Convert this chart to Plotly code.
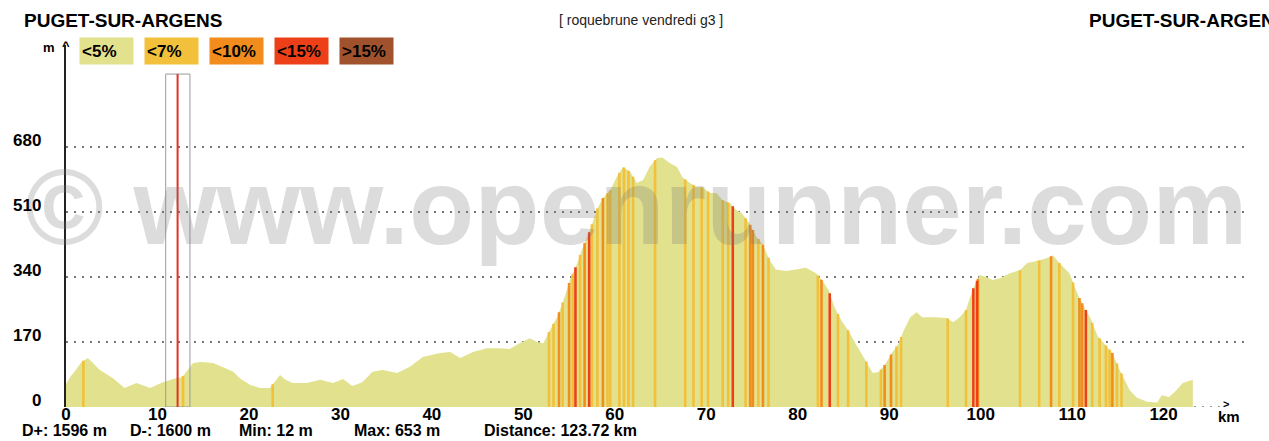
import numpy as np
import plotly.graph_objects as go

# ---------------- data ----------------
dist_km = [0.0, 0.5, 1.0, 1.7, 2.4, 3.7, 5.1, 6.4, 7.7, 9.2, 10.6, 12.1, 12.7, 13.9, 14.7,
           16.1, 18.3, 19.0, 20.1, 21.2, 22.3, 23.1, 23.4, 24.0, 24.8, 26.3, 27.8, 29.2,
           30.3, 31.3, 32.4, 33.5, 34.6, 36.2, 37.6, 39.0, 40.9, 42.0, 43.1, 44.5, 46.0,
           47.4, 48.5, 49.6, 50.7, 51.5, 52.2, 52.9, 53.7, 54.4, 55.1, 55.9, 56.5, 57.3,
           58.0, 58.7, 59.5, 60.2, 60.9, 61.7, 62.4, 63.1, 63.8, 64.6, 65.2, 66.0, 66.8,
           67.4, 68.2, 69.0, 69.6, 70.4, 71.1, 71.8, 72.6, 73.3, 73.9, 74.7, 75.5, 76.2,
           76.9, 77.6, 78.7, 79.8, 80.9, 82.0, 82.7, 83.4, 84.0, 84.8, 85.5, 86.1, 86.9,
           87.6, 88.2, 88.9, 89.5, 90.3, 91.0, 91.6, 92.3, 93.0, 93.6, 95.0, 96.3, 97.0,
           97.7, 98.4, 99.1, 99.9, 100.6, 101.3, 102.1, 103.2, 104.3, 105.1, 106.5, 107.5,
           107.9, 108.6, 109.7, 110.7, 111.3, 112.0, 112.8, 113.3, 114.4, 115.2, 116.3,
           117.1, 118.2, 119.3, 119.8, 120.6, 121.4, 122.1, 123.0, 123.2]
elev_m = [60, 80, 95, 118, 128, 97, 76, 50, 63, 50, 65, 76, 78, 115, 118,
          115, 92, 75, 58, 50, 50, 76, 84, 71, 63, 63, 71, 63,
          73, 55, 65, 92, 97, 89, 105, 131, 141, 144, 128, 144, 154,
          154, 152, 167, 180, 170, 167, 201, 235, 280, 332, 377, 418, 463,
          515, 547, 567, 601, 628, 615, 586, 594, 628, 651, 653, 638, 628,
          601, 586, 575, 575, 560, 560, 541, 533, 515, 507, 481, 445, 425,
          385, 360, 356, 360, 364, 350, 330, 305, 262, 225, 201, 175, 141,
          115, 89, 92, 110, 141, 165, 201, 235, 248, 235, 235, 233, 222,
          235, 254, 306, 345, 340, 332, 337, 350, 358, 377, 384, 392,
          397, 377, 350, 290, 262, 232, 185, 172, 141, 97, 44,
          24, 14, 12, 31, 26, 44, 63, 71, 71]

# slope stripes: position (km) and slope class index into categories
stripe_km = [1.9, 12.8, 22.6,
             52.8, 53.3, 53.9, 54.3, 55.0, 55.4, 55.7, 56.2, 56.7, 57.2, 57.5, 58.1,
             58.7, 59.2, 59.5, 60.5, 61.0, 61.5, 62.0, 64.4, 67.7, 68.6, 69.5, 70.2,
             71.8, 72.4, 72.9, 74.3, 74.8, 75.1, 75.7, 76.2, 76.8, 82.2, 82.6, 83.5, 84.4, 85.5,
             87.5, 89.1, 89.5, 90.2, 90.8, 91.3, 96.4, 98.4, 99.2, 99.6, 99.7, 104.3,
             106.4, 107.7, 108.6, 110.1, 110.8, 111.1, 111.5, 112.2, 113.0, 113.7,
             114.1, 114.4, 114.9, 115.4]
stripe_cat = [1, 1, 1,
              1, 1, 2, 1, 2, 1, 3, 1, 2, 3, 1, 1,
              2, 1, 1, 1, 1, 1, 1, 1, 1, 1, 1, 1,
              1, 1, 3, 1, 2, 2, 1, 2, 1, 1, 2, 3, 1, 1,
              1, 1, 2, 2, 1, 1, 1, 1, 3, 3, 2, 1,
              1, 2, 1, 1, 2, 2, 3, 1, 1, 1,
              1, 2, 1, 1]

categories = ["<5%", "<7%", "<10%", "<15%", ">15%"]
cat_colors = ["#e1e18e", "#f2c03a", "#f28c1c", "#ee4018", "#a0522d"]

x_ticks = list(range(0, 121, 10))
y_ticks = [0, 170, 340, 510, 680]

start_name = "PUGET-SUR-ARGENS"
end_name = "PUGET-SUR-ARGENS"
route_name = "[ roquebrune vendredi g3 ]"
d_plus, d_minus, min_elev, max_elev, total_km = 1596, 1600, 12, 653, 123.72
cursor_km = 12.2

# ---------------- layout constants ----------------
W, H = 1269, 441
L, R, T, B = 66, 24, 45, 34
X_MAX = 128.9
Y_MAX = 947
FONT = "Liberation Sans"
GRID = "#777777"
STRIPE_HALF = 0.14

fig = go.Figure()

# base profile
fig.add_trace(go.Scatter(x=dist_km, y=elev_m, mode="lines", fill="tozeroy",
                         line=dict(width=0, color=cat_colors[0]),
                         fillcolor=cat_colors[0], hoverinfo="skip", showlegend=False))

# slope stripes, one trace per class
for ci in range(1, len(categories)):
    xs, ys = [], []
    for k, c in zip(stripe_km, stripe_cat):
        if c != ci:
            continue
        h = float(np.interp(k, dist_km, elev_m))
        xs += [k - STRIPE_HALF, k - STRIPE_HALF, k + STRIPE_HALF, k + STRIPE_HALF, k - STRIPE_HALF, None]
        ys += [0, h, h, 0, 0, None]
    if xs:
        fig.add_trace(go.Scatter(x=xs, y=ys, mode="lines", fill="toself",
                                 line=dict(width=0, color=cat_colors[ci]),
                                 fillcolor=cat_colors[ci], hoverinfo="skip", showlegend=False))


def ann(text, px, py, size=14, bold=True, xa="left", ya="middle", color="#000000", **kw):
    d = dict(text=text, xref="paper", yref="paper", x=0, y=1,
             xshift=px - L, yshift=T - py, xanchor=xa, yanchor=ya, showarrow=False,
             font=dict(family=FONT, size=size, color=color, weight="bold" if bold else "normal"))
    d.update(kw)
    return d


annotations = []
# watermark
annotations.append(ann("© www.openrunner.com", 636, 207, size=107, xa="center",
                       color="rgba(120,120,120,0.26)"))
# titles
annotations.append(ann(start_name, 22, 20, size=19))
annotations.append(ann(route_name, 641, 20, size=14, bold=False, xa="center", color="#222222"))
annotations.append(ann(end_name, 1087, 20, size=19))
# legend boxes
for i, (lab, col) in enumerate(zip(categories, cat_colors)):
    annotations.append(ann(lab, 79 + i * 65, 51, size=17, bgcolor=col, width=49, height=22,
                           align="left", borderpad=2))
# axis captions
annotations.append(ann("m", 49, 47, size=13, xa="center"))
annotations.append(ann("^", 66, 45, size=13, xa="center"))
annotations.append(ann(">", 1226, 404, size=11, xa="center"))
annotations.append(ann("km", 1229, 416, size=15, xa="center"))
# y tick labels
for v in y_ticks:
    annotations.append(dict(text=str(v), xref="paper", yref="y", x=0, y=v, xshift=-23, yshift=7,
                            xanchor="right", yanchor="middle", showarrow=False,
                            font=dict(family=FONT, size=17, color="#000000", weight="bold")))
# stats
stats = [f"D+: {d_plus} m", f"D-: {d_minus} m", f"Min: {min_elev} m", f"Max: {max_elev} m",
         f"Distance: {total_km} km"]
stat_px = [20, 128, 237, 352, 482]
for s, p in zip(stats, stat_px):
    annotations.append(ann(s, p, 430, size=16))

shapes = [
    dict(type="line", xref="x", yref="y", x0=0, x1=126.3, y0=0, y1=0, layer="below",
         line=dict(color=GRID, width=1.5, dash="2px,6px")),
    dict(type="rect", xref="x", yref="y", x0=cursor_km - 1.3, x1=cursor_km + 1.35, y0=0, y1=871,
         line=dict(color="#9a9a9a", width=1), fillcolor="rgba(0,0,0,0)"),
    dict(type="line", xref="x", yref="y", x0=cursor_km, x1=cursor_km, y0=0, y1=871,
         line=dict(color="#e03424", width=2)),
]

fig.update_layout(
    width=W, height=H, margin=dict(l=L, r=R, t=T, b=B),
    paper_bgcolor="white", plot_bgcolor="white",
    showlegend=False, annotations=annotations, shapes=shapes,
    xaxis=dict(range=[0, X_MAX], tickvals=x_ticks, ticktext=[str(t) for t in x_ticks],
               showgrid=False, zeroline=False, showline=False, ticks="",
               ticklabelstandoff=-5,
               tickfont=dict(family=FONT, size=17, color="#000000", weight="bold"),
               fixedrange=True),
    yaxis=dict(range=[0, Y_MAX], tickvals=y_ticks[1:], showticklabels=False,
               showgrid=True, gridcolor=GRID, gridwidth=1.5, griddash="2px,6px",
               zeroline=False, showline=True, linecolor="#222222", linewidth=2, ticks="",
               fixedrange=True),
)

fig.write_html("out.html", config={"displayModeBar": False},
               post_script="document.body.style.margin='0';document.body.style.padding='0';"
                           "document.body.style.overflow='hidden';")
